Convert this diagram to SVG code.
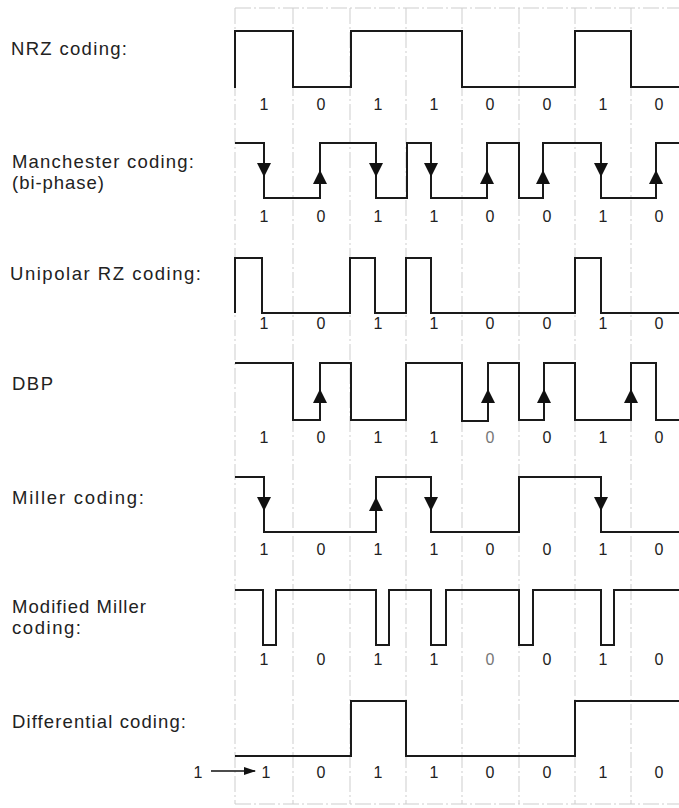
<svg xmlns="http://www.w3.org/2000/svg" width="679" height="808" viewBox="0 0 679 808">
<style>
.grid{stroke:#cdcdcd;stroke-width:1;stroke-dasharray:16 3 2 3;fill:none}
.wave{stroke:#1a1a1a;stroke-width:2;fill:none;stroke-linejoin:miter}
.lbl{font-family:"Liberation Sans",Arial,sans-serif;font-size:18.5px;fill:#222}
.bit{font-family:"Liberation Sans",Arial,sans-serif;font-size:16px;fill:#222;text-anchor:middle}
.faint{fill:#777}
.arr{fill:#111}
</style>
<defs>
<path id="dn" d="M-7,0 L7,0 L0,14 Z"/>
<path id="up" d="M-7,0 L7,0 L0,-14 Z"/>
<marker id="ah" markerWidth="12" markerHeight="10" refX="11" refY="5" orient="auto" markerUnits="userSpaceOnUse">
<path d="M0,1 L12,5 L0,9 Z" fill="#111"/>
</marker>
</defs>
<rect width="679" height="808" fill="#fff"/>
<g id="grid">
<line class="grid" x1="235" y1="8" x2="679" y2="8"/>
<line class="grid" x1="235" y1="804" x2="679" y2="804"/>
<line class="grid" x1="235" y1="8" x2="235" y2="804"/>
<line class="grid" x1="293" y1="8" x2="293" y2="804"/>
<line class="grid" x1="350" y1="8" x2="350" y2="804"/>
<line class="grid" x1="406" y1="8" x2="406" y2="804"/>
<line class="grid" x1="462" y1="8" x2="462" y2="804"/>
<line class="grid" x1="519" y1="8" x2="519" y2="804"/>
<line class="grid" x1="575" y1="8" x2="575" y2="804"/>
<line class="grid" x1="631" y1="8" x2="631" y2="804"/>
</g>
<g id="nrz">
<text class="lbl" x="11" y="55" textLength="116">NRZ coding:</text>
<path class="wave" d="M235,88 V31 H293 V87 H351 V31 H462 V87 H575 V31 H631 V87 H679"/>
<text class="bit" x="264" y="110">1</text><text class="bit" x="321" y="110">0</text><text class="bit" x="378" y="110">1</text><text class="bit" x="434" y="110">1</text><text class="bit" x="490" y="110">0</text><text class="bit" x="547" y="110">0</text><text class="bit" x="603" y="110">1</text><text class="bit" x="659" y="110">0</text>
</g>
<g id="manchester">
<text class="lbl" x="12" y="168" textLength="182">Manchester coding:</text>
<text class="lbl" x="12" y="189" textLength="92">(bi-phase)</text>
<path class="wave" d="M235,143 H264 V198 H320 V143 H376 V198 H407 V143 H431 V198 H487 V143 H519 V198 H543 V143 H601 V198 H656 V143 H679"/>
<use href="#dn" class="arr" x="264" y="163"/><use href="#up" class="arr" x="320" y="184"/><use href="#dn" class="arr" x="376" y="163"/><use href="#dn" class="arr" x="431" y="163"/><use href="#up" class="arr" x="487" y="184"/><use href="#up" class="arr" x="543" y="184"/><use href="#dn" class="arr" x="601" y="163"/><use href="#up" class="arr" x="656" y="184"/>
<text class="bit" x="264" y="222">1</text><text class="bit" x="321" y="222">0</text><text class="bit" x="378" y="222">1</text><text class="bit" x="434" y="222">1</text><text class="bit" x="490" y="222">0</text><text class="bit" x="547" y="222">0</text><text class="bit" x="603" y="222">1</text><text class="bit" x="659" y="222">0</text>
</g>
<g id="unipolar">
<text class="lbl" x="10" y="280" textLength="191">Unipolar RZ coding:</text>
<path class="wave" d="M235,313 V258 H262 V313 H350 V258 H375 V313 H406 V258 H431 V313 H575 V258 H601 V313 H679"/>
<text class="bit" x="264" y="329">1</text><text class="bit" x="321" y="329">0</text><text class="bit" x="378" y="329">1</text><text class="bit" x="434" y="329">1</text><text class="bit" x="490" y="329">0</text><text class="bit" x="547" y="329">0</text><text class="bit" x="603" y="329">1</text><text class="bit" x="659" y="329">0</text>
</g>
<g id="dbp">
<text class="lbl" x="12" y="390" textLength="41">DBP</text>
<path class="wave" d="M235,363 H293 V420 H320 V363 H351 V420 H406 V363 H462 V421 H488 V363 H519 V420 H544 V363 H575 V420 H631 V363 H656 V420 H679"/>
<use href="#up" class="arr" x="320" y="403"/><use href="#up" class="arr" x="488" y="403"/><use href="#up" class="arr" x="544" y="403"/><use href="#up" class="arr" x="631" y="403"/>
<text class="bit" x="264" y="443">1</text><text class="bit" x="321" y="443">0</text><text class="bit" x="378" y="443">1</text><text class="bit" x="434" y="443">1</text><text class="bit faint" x="490" y="443">0</text><text class="bit" x="547" y="443">0</text><text class="bit" x="603" y="443">1</text><text class="bit" x="659" y="443">0</text>
</g>
<g id="miller">
<text class="lbl" x="12" y="504" textLength="132">Miller coding:</text>
<path class="wave" d="M235,477 H264 V532 H376 V477 H431 V532 H519 V477 H601 V532 H679"/>
<use href="#dn" class="arr" x="264" y="497"/><use href="#up" class="arr" x="376" y="511"/><use href="#dn" class="arr" x="431" y="497"/><use href="#dn" class="arr" x="601" y="497"/>
<text class="bit" x="264" y="555">1</text><text class="bit" x="321" y="555">0</text><text class="bit" x="378" y="555">1</text><text class="bit" x="434" y="555">1</text><text class="bit" x="490" y="555">0</text><text class="bit" x="547" y="555">0</text><text class="bit" x="603" y="555">1</text><text class="bit" x="659" y="555">0</text>
</g>
<g id="modmiller">
<text class="lbl" x="12" y="613" textLength="134">Modified Miller</text>
<text class="lbl" x="12" y="634" textLength="69">coding:</text>
<path class="wave" d="M235,590 H263 V645 H276 V590 H376 V645 H389 V590 H431 V645 H446 V590 H519 V645 H533 V590 H601 V645 H614 V590 H679"/>
<text class="bit" x="264" y="665">1</text><text class="bit" x="321" y="665">0</text><text class="bit" x="378" y="665">1</text><text class="bit" x="434" y="665">1</text><text class="bit faint" x="490" y="665">0</text><text class="bit" x="547" y="665">0</text><text class="bit" x="603" y="665">1</text><text class="bit" x="659" y="665">0</text>
</g>
<g id="differential">
<text class="lbl" x="12" y="728" textLength="174">Differential coding:</text>
<path class="wave" d="M235,756 H351 V701 H406 V756 H575 V701 H679"/>
<text class="bit" x="198" y="778">1</text>
<line x1="211" y1="771" x2="255" y2="771" stroke="#111" stroke-width="1.5" marker-end="url(#ah)"/>
<text class="bit" x="266" y="778">1</text><text class="bit" x="321" y="778">0</text><text class="bit" x="378" y="778">1</text><text class="bit" x="434" y="778">1</text><text class="bit" x="490" y="778">0</text><text class="bit" x="547" y="778">0</text><text class="bit" x="603" y="778">1</text><text class="bit" x="659" y="778">0</text>
</g>
</svg>
